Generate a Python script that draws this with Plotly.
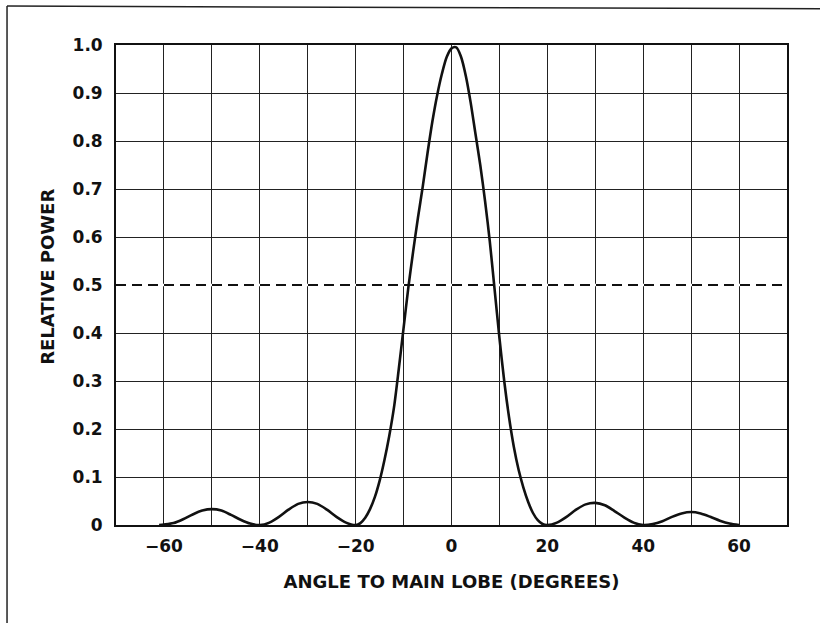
import plotly.graph_objects as go

# ---- data ----
angle_deg = [-61, -60, -58, -56, -54, -52, -50, -48, -46, -44, -42, -40,
             -38, -36, -34, -32, -30, -28, -26, -24, -22, -20,
             -19, -18, -17, -16, -15, -14, -13, -12, -11, -10, -9, -8, -7, -6,
             -5, -4, -3, -2, -1, 0, 1, 2, 3, 4, 5, 6, 7, 8, 9, 10, 11, 12, 13,
             14, 15, 16, 17, 18, 19, 20,
             22, 24, 26, 28, 30, 32, 34, 36, 38, 40,
             42, 44, 46, 48, 50, 52, 54, 56, 58, 60]
relative_power = [0.0, 0.001, 0.004, 0.012, 0.022, 0.030, 0.033, 0.030, 0.021, 0.011, 0.003, 0.0,
                  0.005, 0.017, 0.032, 0.044, 0.048, 0.044, 0.032, 0.017, 0.005, 0.0,
                  0.004, 0.015, 0.033, 0.058, 0.092, 0.135, 0.185, 0.245, 0.325, 0.41, 0.495, 0.57, 0.64, 0.705,
                  0.775, 0.84, 0.895, 0.94, 0.975, 0.993, 0.995, 0.975, 0.935, 0.88, 0.815, 0.75, 0.675, 0.59, 0.49,
                  0.39, 0.30, 0.225, 0.163, 0.115, 0.078, 0.048, 0.025, 0.01, 0.002, 0.0,
                  0.005, 0.017, 0.032, 0.043, 0.046, 0.041, 0.029, 0.016, 0.005, 0.0,
                  0.002, 0.008, 0.017, 0.024, 0.027, 0.024, 0.017, 0.009, 0.003, 0.0]

x_range = [-70, 70]
half_power_level = 0.5

x_grid_vals = [-70, -60, -50, -40, -30, -20, -10, 0, 10, 20, 30, 40, 50, 60, 70]
x_tick_text = ["", "\u221260", "", "\u221240", "", "\u221220", "", "0", "", "20", "", "40", "", "60", ""]
y_grid_vals = [0, 0.1, 0.2, 0.3, 0.4, 0.5, 0.6, 0.7, 0.8, 0.9, 1.0]
y_tick_text = ["0", "0.1", "0.2", "0.3", "0.4", "0.5", "0.6", "0.7", "0.8", "0.9", "1.0"]

x_title = "ANGLE TO MAIN LOBE (DEGREES)"
y_title = "RELATIVE POWER"

INK = "#111111"
TICKFONT = dict(family="DejaVu Sans", size=17, color=INK, weight="bold")
TITLEFONT = dict(family="DejaVu Sans", size=18, color=INK, weight="bold")

fig = go.Figure()
# white mask so the dashed line replaces the 0.5 grid line
fig.add_trace(go.Scatter(
    x=x_range, y=[half_power_level, half_power_level], mode="lines",
    line=dict(color="white", width=2.4),
    hoverinfo="skip", showlegend=False,
))
# half-power reference line
fig.add_trace(go.Scatter(
    x=x_range, y=[half_power_level, half_power_level], mode="lines",
    line=dict(color=INK, width=2.2, dash="10px,6px"),
    hoverinfo="skip", showlegend=False,
))
fig.add_trace(go.Scatter(
    x=angle_deg, y=relative_power, mode="lines",
    line=dict(color=INK, width=2.6, shape="spline", smoothing=0.8),
    hoverinfo="skip", showlegend=False,
))

# outer frame (left and top edges of scanned figure border)
fig.add_shape(type="line", xref="paper", yref="paper",
              x0=-0.1624, x1=1.2, y0=1.081, y1=1.075,
              line=dict(color="#222222", width=1.5))
fig.add_shape(type="line", xref="paper", yref="paper",
              x0=-0.1624, x1=-0.1624, y0=1.081, y1=-0.3,
              line=dict(color="#222222", width=1.5))

# y-axis title as annotation (placed like the original lettering)
fig.add_annotation(text=y_title, xref="paper", yref="paper", x=-0.1013, y=0.517,
                   xanchor="center", yanchor="middle", textangle=-90,
                   showarrow=False, font=TITLEFONT)

fig.update_xaxes(
    range=x_range, tickmode="array", tickvals=x_grid_vals, ticktext=x_tick_text,
    showgrid=True, gridcolor="#222222", gridwidth=1, zeroline=False,
    showline=True, linecolor=INK, linewidth=1.8, mirror=True,
    ticks="outside", ticklen=5, tickcolor="rgba(0,0,0,0)", tickfont=TICKFONT,
    title=dict(text=x_title, font=TITLEFONT, standoff=20),
)
fig.update_yaxes(
    range=[0, 1.0], tickmode="array", tickvals=y_grid_vals, ticktext=y_tick_text,
    showgrid=True, gridcolor="#222222", gridwidth=1, zeroline=False,
    showline=True, linecolor=INK, linewidth=1.8, mirror=True,
    ticks="outside", ticklen=8, tickcolor="rgba(0,0,0,0)", tickfont=TICKFONT,
)

fig.update_layout(
    width=820, height=623,
    margin=dict(l=116, r=33, t=45, b=98),
    paper_bgcolor="white", plot_bgcolor="white",
    font=TICKFONT,
)

fig.write_html("out.html", config={"displayModeBar": False},
               post_script="document.body.style.margin='0px';document.body.style.overflow='hidden';")
